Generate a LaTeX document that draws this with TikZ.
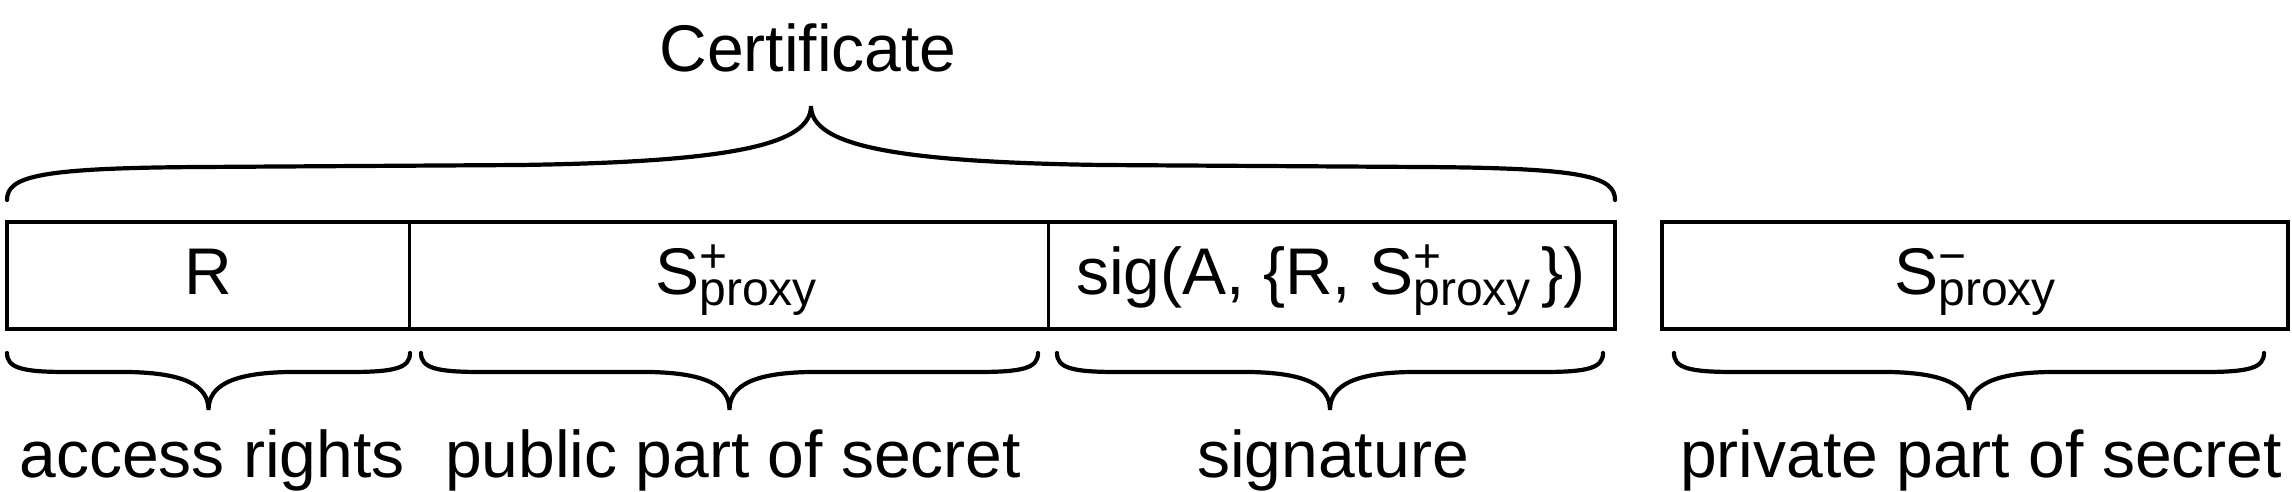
\documentclass[tikz,border=0pt]{standalone}
\usepackage{fontspec}
\setmainfont{Liberation Sans}
\newcommand{\subsz}{\fontsize{48}{50}\selectfont}
\newcommand{\Sprox}[1]{S\rlap{\raisebox{0.33em}{\subsz #1}}\raisebox{-0.17em}{\subsz proxy}}
\begin{document}
\begin{tikzpicture}[x=1pt,y=-1pt,
  frame/.style={line width=4.5pt},
  divider/.style={line width=3.2pt},
  brace/.style={line width=4.2pt, line cap=round},
  txt/.style={anchor=base, inner sep=0pt, font=\fontsize{66}{79}\selectfont},
  cell/.style={inner sep=0pt, minimum height=107pt}]
\useasboundingbox (0,0) rectangle (2292,492);

% cells
\node[cell, minimum width=402pt] (c1) at (208,275.5) {};
\node[cell, minimum width=639pt] (c2) at (728.5,275.5) {};
\node[cell, minimum width=567pt] (c3) at (1331.5,275.5) {};
\node[cell, minimum width=626pt] (c4) at (1975,275.5) {};

\draw[frame] (c1.north west) rectangle (c3.south east);
\draw[divider] (c1.north east) -- (c1.south east);
\draw[divider] (c2.north east) -- (c2.south east);
\draw[frame] (c4.north west) rectangle (c4.south east);

% cell texts
\node[txt] (tR) at (208,294) {R};
\node[txt] (tSp) at (736,294) {\Sprox{+}};
\node[txt] (tsig) at (1331,294) {sig(A, \{R, \Sprox{+}\,\})};
\node[txt] (tSm) at (1975,294) {\Sprox{−}};

% top label and brace
\node[txt] (cert) at (808,72) {Certificate};
\draw[brace] (7,200) .. controls (7,176) and (40,168) .. (200,167) -- (520,165)
  .. controls (730,162) and (811,145) .. (811,106)
  .. controls (811,145) and (892,162) .. (1102,165) -- (1422,167)
  .. controls (1582,168) and (1615,176) .. (1615,200);

% bottom braces
\foreach \a/\b in {7/410, 421/1038, 1057/1603, 1674/2264}{
  \pgfmathsetmacro{\m}{(\a+\b)/2}
  \draw[brace] (\a,353) .. controls (\a,368) and (\a+15,372) .. (\a+60,372) -- (\m-80,372)
    .. controls (\m-25,373) and (\m,385) .. (\m,410)
    .. controls (\m,385) and (\m+25,373) .. (\m+80,372) -- (\b-60,372)
    .. controls (\b-15,372) and (\b,368) .. (\b,353);
}

% bottom labels
\node[txt] (l1) at (212,477) {access rights};
\node[txt] (l2) at (733,477) {public part of secret};
\node[txt] (l3) at (1333,477) {signature};
\node[txt] (l4) at (1981,477) {private part of secret};
\end{tikzpicture}
\end{document}
